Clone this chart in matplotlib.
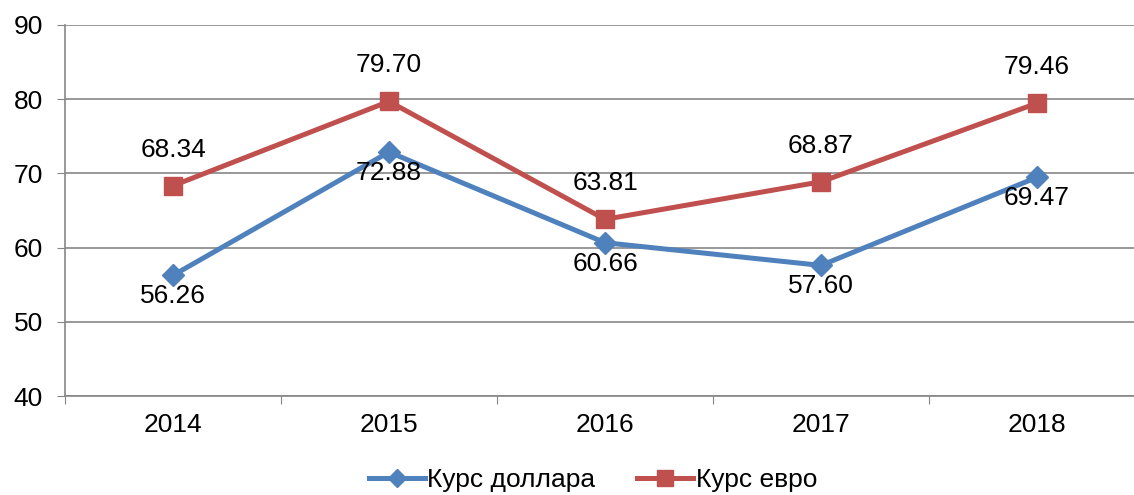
import matplotlib.pyplot as plt

years = ["2014", "2015", "2016", "2017", "2018"]
usd = [56.26, 72.88, 60.66, 57.60, 69.47]
eur = [68.34, 79.70, 63.81, 68.87, 79.46]

plt.rcParams['font.family'] = ['Liberation Sans', 'DejaVu Sans']
fs = 19

fig = plt.figure(figsize=(11.34, 4.95), dpi=100)
ax = fig.add_axes([65 / 1134, 99 / 495, 1080 / 1134, 371 / 495])

x = list(range(len(years)))
blue = '#4F81BD'
red = '#C0504D'
ax.plot(x, usd, color=blue, lw=3.6, marker='D', ms=11, label='Курс доллара', zorder=3)
ax.plot(x, eur, color=red, lw=3.6, marker='s', ms=13, label='Курс евро', zorder=3)

for xi, v in zip(x, usd):
    ax.annotate(f"{v:.2f}", (xi, v), xytext=(0, -15), textcoords='offset points',
                ha='center', va='center', fontsize=fs)
for xi, v in zip(x, eur):
    ax.annotate(f"{v:.2f}", (xi, v), xytext=(0, 26), textcoords='offset points',
                ha='center', va='center', fontsize=fs)

ax.set_xlim(-0.5, len(years) - 0.5)
ax.set_ylim(40, 90)
ax.set_yticks(range(40, 91, 10))
ax.tick_params(axis='y', labelsize=fs, length=6, color='#868686', pad=10)
ax.set_xticks([i - 0.5 for i in range(len(years) + 1)])
ax.set_xticklabels([])
ax.set_xticks(x, minor=True)
ax.set_xticklabels(years, minor=True)
ax.tick_params(axis='x', which='major', length=6, color='#868686')
ax.tick_params(axis='x', which='minor', length=0, labelsize=fs, pad=12)
ax.yaxis.grid(True, color='#868686', lw=1.2)
ax.set_axisbelow(True)
for s in ['top', 'right']:
    ax.spines[s].set_visible(False)
for s in ['left', 'bottom']:
    ax.spines[s].set_color('#868686')
    ax.spines[s].set_linewidth(1.2)

fig.legend(loc='center', bbox_to_anchor=(593 / 1134, 15 / 495), ncol=2, frameon=False,
           fontsize=fs, handlelength=2.1, handletextpad=0.1, columnspacing=1.6,
           markerscale=0.85)

fig.savefig('out.png', dpi=100)
